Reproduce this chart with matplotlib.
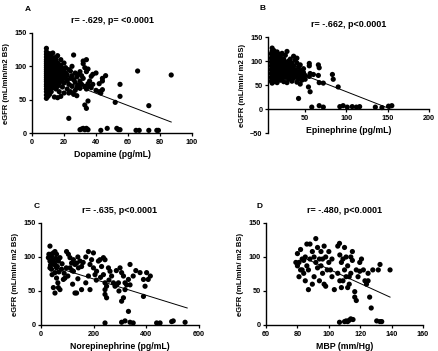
import numpy as np
import matplotlib
matplotlib.use('Agg')
import matplotlib.pyplot as plt

plt.rcParams['font.family'] = ['Liberation Sans', 'DejaVu Sans']
plt.rcParams['font.weight'] = 'bold'

#------------------------------------------------------------------------------
# DATA

# A: Dopamine (pg/mL) vs eGFR
dopamine_pts = [
    (9, 52), (9, 57), (9, 62), (9, 66), (9, 70), (9, 73), (9, 77), (9, 80), (9, 83), (9, 86),
    (9, 89), (9, 92), (9, 95), (9, 98), (9, 101), (9, 104), (9, 107), (9, 110), (9, 114), (9, 118),
    (9, 122), (9, 127),
    (10, 55), (10, 60), (10, 65), (10, 70), (10, 75), (10, 78), (10, 82), (10, 85), (10, 88),
    (10, 92), (10, 96), (10, 100), (10, 103), (10, 106), (10, 110), (10, 113), (10, 117),
    (11, 58), (11, 64), (11, 72), (11, 76), (11, 80), (11, 84), (11, 90), (11, 94), (11, 99),
    (11, 102), (11, 108), (11, 115), (11, 119),
    (12, 62), (12, 70), (12, 78), (12, 83), (12, 87), (12, 93), (12, 97), (12, 105), (12, 112), (12, 118),
    (13, 68), (13, 75), (13, 81), (13, 88), (13, 95), (13, 100), (13, 109), (13, 120),
    (14, 54), (14, 72), (14, 79), (14, 85), (14, 92), (14, 98), (14, 104), (14, 113),
    (15, 66), (15, 76), (15, 84), (15, 90), (15, 96), (15, 101), (15, 110),
    (16, 53), (16, 70), (16, 80), (16, 87), (16, 94), (16, 105), (16, 116),
    (17, 62), (17, 74), (17, 83), (17, 91), (17, 99),
    (18, 55), (18, 78), (18, 86), (18, 95), (18, 102), (18, 110),
    (19, 69), (19, 81), (19, 88), (19, 97),
    (20, 60), (20, 75), (20, 84), (20, 92), (20, 105),
    (21, 82), (21, 90), (21, 98), (22, 66), (22, 78), (22, 87),
    (23, 22), (23, 60), (23, 73), (23, 95), (24, 62), (24, 82), (24, 93),
    (25, 70), (25, 86), (25, 100), (26, 117), (26, 80), (26, 58),
    (27, 64), (27, 76), (27, 90), (28, 56), (28, 68), (28, 84), (29, 72), (29, 88),
    (30, 5), (30, 67), (30, 78), (30, 92), (31, 6), (31, 73), (31, 86),
    (32, 7), (32, 104), (32, 108), (32, 82), (33, 42), (33, 5), (33, 98), (33, 70),
    (34, 7), (34, 37), (34, 92), (34, 66), (34, 110), (35, 5), (35, 48), (35, 96), (35, 74),
    (36, 70), (36, 78), (37, 68), (37, 85), (38, 73), (38, 88), (40, 90), (40, 64),
    (42, 62), (42, 74), (43, 4), (43, 60), (44, 65), (44, 78), (44, 82), (46, 86), (47, 7),
    (52, 46), (53, 7), (55, 5), (55, 55), (55, 73), (54, 5),
    (65, 4), (67, 4), (66, 93), (73, 41), (73, 4), (78, 4), (79, 4), (87, 87),
]
dopamine_fit_x = [9, 87]
dopamine_fit_y = [88, 16.5]

# B: Epinephrine (pg/mL) vs eGFR
epinephrine_pts = [
    (9, 58), (9, 66), (9, 74), (9, 82), (9, 90), (9, 98), (9, 106), (9, 115),
    (10, 54), (10, 62), (10, 70), (10, 78), (10, 86), (10, 94), (10, 102), (10, 110), (10, 120), (10, 127),
    (12, 57), (12, 65), (12, 73), (12, 81), (12, 89), (12, 97), (12, 105), (12, 113), (12, 122),
    (14, 60), (14, 68), (14, 76), (14, 84), (14, 92), (14, 100), (14, 108), (14, 116),
    (16, 55), (16, 63), (16, 71), (16, 79), (16, 87), (16, 95), (16, 103), (16, 111), (16, 119),
    (18, 66), (18, 74), (18, 82), (18, 90), (18, 98), (18, 106), (18, 114),
    (20, 60), (20, 70), (20, 78), (20, 86), (20, 94), (20, 102), (20, 110),
    (22, 64), (22, 75), (22, 84), (22, 92), (22, 100), (22, 116),
    (24, 57), (24, 70), (24, 80), (24, 88), (24, 96), (24, 104),
    (26, 66), (26, 78), (26, 90), (26, 98), (26, 112),
    (28, 55), (28, 72), (28, 84), (28, 94), (28, 120),
    (30, 62), (30, 76), (30, 88), (30, 100), (32, 68), (32, 80), (32, 92), (32, 104),
    (34, 58), (34, 72), (34, 86), (34, 96), (36, 64), (36, 78), (36, 90), (36, 110),
    (38, 70), (38, 82), (38, 102), (40, 56), (40, 68), (40, 78), (40, 96), (40, 106),
    (42, 22), (42, 62), (42, 74), (42, 88), (44, 52), (44, 70), (44, 80), (44, 92),
    (46, 60), (46, 72), (48, 66), (48, 76), (48, 84), (50, 70), (50, 62),
    (54, 46), (56, 36), (55, 68), (55, 95), (56, 74), (55, 90), (60, 72),
    (66, 92), (67, 86), (66, 70), (67, 55), (72, 54), (83, 72), (84, 62), (90, 46),
    (58, 4), (67, 7), (72, 4), (92, 5), (96, 7), (101, 4), (107, 5), (112, 4), (116, 5),
    (135, 4), (143, 3), (151, 6), (155, 7),
]
epinephrine_fit_x = [8, 155]
epinephrine_fit_y = [98, -1]

# C: Norepinephrine (pg/mL) vs eGFR
norepinephrine_pts = [
    (34, 116), (28, 99), (40, 101), (47, 106), (53, 108), (59, 104), (34, 94), (47, 91),
    (53, 89), (34, 84), (40, 82), (59, 84), (53, 77), (66, 94), (72, 99), (59, 69),
    (47, 55), (53, 47), (66, 55), (72, 52), (78, 82), (85, 67), (91, 69), (97, 108),
    (104, 104), (110, 99), (116, 91), (123, 96), (110, 84), (123, 79), (129, 89), (135, 91),
    (142, 84), (148, 94), (154, 86), (135, 47), (129, 47), (154, 52), (180, 108), (199, 106),
    (186, 52), (180, 72), (186, 89), (199, 84), (205, 74), (211, 79), (218, 94), (224, 96),
    (237, 99), (243, 96), (230, 86), (237, 74), (243, 62), (249, 57), (243, 52), (249, 40),
    (243, 45), (256, 84), (262, 79), (268, 72), (275, 62), (281, 57), (287, 59), (294, 62),
    (300, 84), (306, 77), (313, 72), (319, 62), (325, 59), (306, 35), (313, 40), (319, 52),
    (338, 89), (332, 67), (338, 59), (376, 77), (389, 67), (389, 42), (401, 77), (407, 67),
    (395, 57), (332, 20),
    (38, 104), (44, 96), (50, 92), (56, 98), (62, 86), (68, 78), (42, 74), (36, 88),
    (30, 104), (64, 62), (80, 90), (88, 76), (96, 84), (102, 72), (118, 80), (140, 68),
    (160, 92), (170, 62), (192, 96), (210, 66), (226, 70), (258, 66), (286, 80), (296, 50),
    (350, 72), (360, 80), (415, 72), (170, 100), (120, 60), (140, 100),
    (243, 3), (306, 4), (319, 6), (338, 4), (350, 3), (439, 3), (452, 3), (496, 5),
    (502, 6), (547, 4),
]
norepinephrine_fit_x = [30, 555]
norepinephrine_fit_y = [88, 25]

# D: MBP (mm/Hg) vs eGFR
mbp_pts = [
    (80, 105), (80, 87), (81, 71), (82, 81), (83, 97), (84, 76), (85, 65), (86, 87),
    (87, 52), (86, 119), (88, 119), (89.5, 108), (90.6, 100), (91.7, 127), (92.8, 114), (94, 97),
    (90.6, 71), (95, 87), (96, 76), (97, 60), (98, 57), (99, 81), (97, 116), (98, 100),
    (100, 92), (101, 81), (102, 71), (103.5, 52), (94, 65), (89.5, 60), (84, 95), (82, 111),
    (79, 92), (81, 92), (83, 81), (85, 100), (87, 81), (88, 97), (91.7, 92), (92.8, 84),
    (95, 108), (96, 97), (100, 108), (102, 97),
    (105.7, 116), (106.8, 120), (107, 103), (108, 92), (105.7, 76), (107, 65), (108, 55), (109, 97),
    (110, 81), (111, 71), (112, 87), (113, 60), (114, 76), (115, 95), (116.5, 49), (116.5, 41),
    (117.5, 36), (117.5, 81), (118.6, 71), (119.7, 92), (120.8, 97), (115, 108), (114, 100), (111, 100),
    (110, 114), (109, 65), (112, 55), (113, 71), (122, 81), (123, 65), (124, 60), (125, 76),
    (125, 65), (127, 25), (126, 41), (128, 81), (131.5, 81), (132.6, 89), (139, 81), (119.7, 79),
    (106.8, 4), (110, 5), (111, 6), (112, 5), (113, 7), (115.4, 8), (114, 9),
    (130.5, 6), (132.6, 5), (133.7, 5),
]
mbp_fit_x = [84, 139]
mbp_fit_y = [99, 41]

#------------------------------------------------------------------------------
# PLOT

fig = plt.figure(figsize=(4.39, 3.51), dpi=100)

panels = [
    # letter, points, fit x, fit y, title, xlabel, ylabel, xlim, xticks, ylim, yticks, axes rect, letter pos
    ('A', dopamine_pts, dopamine_fit_x, dopamine_fit_y, 'r= -.629, p= <0.0001',
     'Dopamine (pg/mL)', 'eGFR (mL/min/m2 BS)', (0, 100), [0, 20, 40, 60, 80, 100],
     (0, 150), [0, 50, 100, 150], [0.0729, 0.621, 0.3645, 0.285], (0.064, 0.983)),
    ('B', epinephrine_pts, epinephrine_fit_x, epinephrine_fit_y, 'r= -.662, p<0.0001',
     'Epinephrine (pg/mL)', 'eGFR (mL/min/ m2 BS)', (5, 200), [50, 100, 150, 200],
     (-50, 150), [-50, 0, 50, 100, 150], [0.6105, 0.621, 0.3667, 0.2735], (0.597, 0.986)),
    ('C', norepinephrine_pts, norepinephrine_fit_x, norepinephrine_fit_y, 'r= -.635, p<0.0001',
     'Norepinephrine (pg/mL)', 'eGFR (mL/min/ m2 BS)', (0, 600), [0, 200, 400, 600],
     (0, 150), [0, 50, 100, 150], [0.0934, 0.0741, 0.36, 0.2906], (0.084, 0.422)),
    ('D', mbp_pts, mbp_fit_x, mbp_fit_y, 'r= -.480, p<0.0001',
     'MBP (mm/Hg)', 'eGFR (mL/min/ m2 BS)', (60, 160), [60, 80, 100, 120, 140, 160],
     (0, 150), [0, 50, 100, 150], [0.606, 0.0741, 0.3576, 0.2906], (0.59, 0.422)),
]

for (letter, pts, fx, fy, title, xlabel, ylabel, xlim, xticks, ylim, yticks, rect, lpos) in panels:
    ax = fig.add_axes(rect)
    px, py = np.array(pts, dtype=float).T
    ax.scatter(px, py, s=14, c='black', edgecolors='none', zorder=3, clip_on=False)
    ax.plot(fx, fy, color='black', lw=0.7, zorder=2)
    ax.set_xlim(xlim)
    ax.set_ylim(ylim)
    ax.set_xticks(xticks)
    ax.set_yticks(yticks)
    ax.spines['top'].set_visible(False)
    ax.spines['right'].set_visible(False)
    ax.spines['left'].set_linewidth(1.0)
    ax.spines['bottom'].set_linewidth(1.0)
    if ylim[0] < 0:
        ax.spines['bottom'].set_position(('data', 0))
    ax.tick_params(direction='out', length=2.5, width=0.9, labelsize=5.2, pad=1.5)
    for lab in ax.get_xticklabels() + ax.get_yticklabels():
        lab.set_fontweight('bold')
    ax.set_xlabel(xlabel, fontsize=6.3, fontweight='bold', labelpad=3)
    ax.set_ylabel(ylabel, fontsize=5.5, fontweight='bold', labelpad=3)
    ax.set_title(title, fontsize=6.5, fontweight='bold', pad=7)
    fig.text(lpos[0], lpos[1], letter, fontsize=6, fontweight='bold', va='top', ha='center')

fig.savefig('out.png', dpi=100)
